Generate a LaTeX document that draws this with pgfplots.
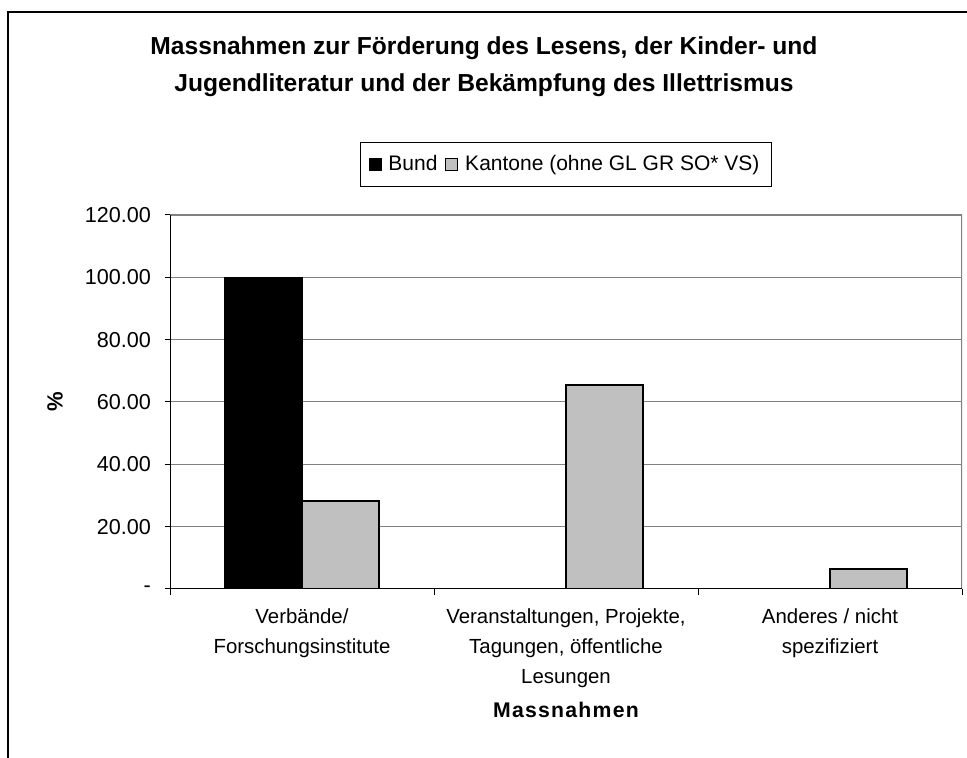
\documentclass[border=0pt]{standalone}
\usepackage{fontspec}
\setmainfont{Liberation Sans}
\usepackage{pgfplots}
\pgfplotsset{compat=1.18}
\definecolor{barsilver}{HTML}{C0C0C0}
\definecolor{framegray}{HTML}{808080}
\begin{document}
\begin{tikzpicture}
\useasboundingbox (0,0) rectangle (483.5pt,379pt);
% outer chart frame (only left and top edges are visible)
\draw[line width=0.8pt] (4pt,-5pt) -- (4pt,373pt) -- (490pt,373pt);
\node[font=\bfseries\fontsize{12.3}{18.5}\selectfont, align=center] at (242pt,345.5pt)
  {Massnahmen zur Förderung des Lesens, der Kinder- und\\Jugendliteratur und der Bekämpfung des Illettrismus};
\begin{axis}[
  at={(85pt,84.5pt)}, anchor=south west,
  scale only axis, width=396pt, height=187pt,
  ybar=0pt, bar width=38.5pt,
  xmin=-0.5, xmax=2.5, ymin=0, ymax=120,
  xtick={0,1,2},
  xticklabels={Verbände/\\Forschungsinstitute,
               {Veranstaltungen, Projekte,\\Tagungen, öffentliche\\Lesungen},
               Anderes / nicht\\spezifiziert},
  minor xtick={-0.5,0.5,1.5,2.5},
  major x tick style={draw=none},
  minor tick length=3pt, major tick length=2.5pt,
  ytick={0,20,...,120},
  yticklabels={-,20.00,40.00,60.00,80.00,100.00,120.00},
  tick align=outside, xtick pos=bottom, ytick pos=left,
  tick style={black, line width=0.5pt},
  ymajorgrids, grid style={framegray, line width=0.5pt},
  axis line style={draw=none},
  xticklabel style={font=\fontsize{10.2}{14.8}\selectfont, align=center, yshift=-4pt},
  yticklabel style={font=\fontsize{10.8}{13}\selectfont, xshift=-3.5pt},
  /pgf/number format/assume math mode=true,
  xlabel={\bfseries\addfontfeature{LetterSpace=6}Massnahmen},
  xlabel style={font=\fontsize{10.6}{12}\selectfont, at={(axis description cs:0.5,0)}, anchor=center, yshift=-60.5pt},
  ylabel={\bfseries \%},
  ylabel style={font=\fontsize{11}{12}\selectfont, at={(axis description cs:-0.145,0.5)}, anchor=center},
  legend columns=2,
  legend style={at={(axis description cs:0.5,1.134)}, anchor=center,
    draw=black, line width=0.5pt, font=\fontsize{10.5}{12}\selectfont,
    inner xsep=4pt, inner ysep=4.5pt,
    /tikz/every odd column/.append style={column sep=1.5pt},
    /tikz/every even column/.append style={column sep=2pt}},
  legend image code/.code={\draw[#1, draw=black, line width=0.4pt] (0pt,-3pt) rectangle (6pt,3pt);},
]
\addplot[fill=black, draw=black, line width=0.75pt] coordinates {(0,100) (1,0) (2,0)};
\addlegendentry{Bund}
\addplot[fill=barsilver, draw=black, line width=0.75pt] coordinates {(0,28.3) (1,65.4) (2,6.4)};
\addlegendentry{Kantone (ohne GL GR SO* VS)}
\draw[framegray, line width=1pt] (rel axis cs:0,1) -- (rel axis cs:1,1) -- (rel axis cs:1,0);
\draw[black, line width=0.6pt] (rel axis cs:0,1) -- (rel axis cs:0,0) -- (rel axis cs:1,0);
\end{axis}
\end{tikzpicture}
\end{document}
